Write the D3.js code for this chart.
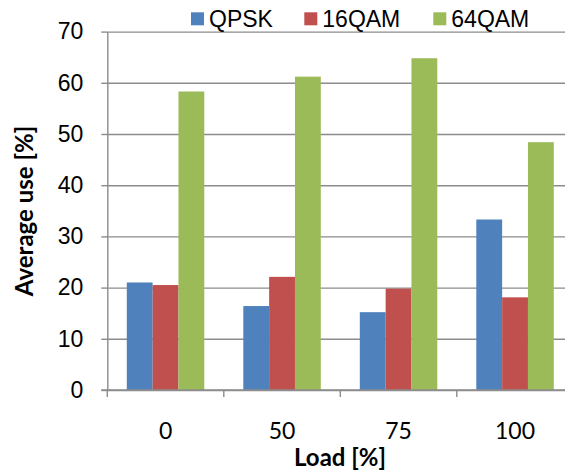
<!DOCTYPE html>
<html>
<head>
<meta charset="utf-8">
<script src="https://cdn.jsdelivr.net/npm/d3@7"></script>
<style>
  html, body { margin: 0; padding: 0; background: #fff; overflow: hidden; }
  svg { display: block; }
</style>
</head>
<body>
<div id="chart"></div>
<script>
// ---- data ----
const categories = ["0", "50", "75", "100"];
const seriesNames = ["QPSK", "16QAM", "64QAM"];
const qpsk  = [21.0, 16.4, 15.2, 33.3];
const qam16 = [20.5, 22.1, 19.8, 18.1];
const qam64 = [58.3, 61.2, 64.8, 48.4];
const yTicks = [0, 10, 20, 30, 40, 50, 60, 70];
const colors = ["#4F81BD", "#C0504D", "#9BBB59"];
const xTitle = "Load [%]";
const yTitle = "Average use [%]";

const seriesValues = [qpsk, qam16, qam64];

// ---- layout ----
const W = 565, H = 472;
const pLeft = 107.3, pRight = 573.3, pTop = 31.6, pBottom = 390;
const gridColor = "#8c8c8c";

const svg = d3.select("#chart").append("svg")
  .attr("width", W).attr("height", H);

const x = d3.scaleBand().domain(categories).range([pLeft, pRight]).padding(0);
const bw = x.bandwidth();
const inner = d3.scaleBand().domain(seriesNames)
  .range([bw * 0.1674, bw * (1 - 0.1674)]).padding(0);
const y = d3.scaleLinear().domain([0, 70]).range([pBottom, pTop]);

// gridlines
const grid = svg.append("g")
  .attr("transform", `translate(${pLeft},0)`)
  .call(d3.axisLeft(y).tickValues(yTicks).tickSize(-(pRight - pLeft)).tickFormat(""));
grid.select(".domain").remove();
grid.selectAll("line").attr("stroke", gridColor).attr("stroke-width", 1.4);

// bars
const rows = categories.map((c, i) => ({ cat: c, vals: seriesNames.map((s, j) => ({ s, v: seriesValues[j][i], j })) }));
const groups = svg.append("g").selectAll("g").data(rows).join("g")
  .attr("transform", d => `translate(${x(d.cat)},0)`);
groups.selectAll("rect").data(d => d.vals).join("rect")
  .attr("x", d => inner(d.s))
  .attr("width", inner.bandwidth())
  .attr("y", d => y(d.v))
  .attr("height", d => y(0) - y(d.v))
  .attr("fill", d => colors[d.j]);

// y axis
const yAxis = svg.append("g")
  .attr("transform", `translate(${pLeft},0)`)
  .call(d3.axisLeft(y).tickValues(yTicks).tickSize(6).tickPadding(18).tickSizeOuter(0));
yAxis.select(".domain").attr("stroke", gridColor).attr("stroke-width", 1.4);
yAxis.selectAll("line").attr("stroke", gridColor).attr("stroke-width", 1.4);
yAxis.selectAll("text")
  .attr("font-family", "Liberation Sans, Arial, sans-serif")
  .attr("font-size", 23).attr("fill", "#000");

// x axis line with boundary ticks
const xAxisLine = svg.append("g").attr("transform", `translate(0,${pBottom})`);
xAxisLine.append("line")
  .attr("x1", pLeft - 6).attr("x2", pRight)
  .attr("stroke", gridColor).attr("stroke-width", 1.4);
const bounds = categories.map(c => x(c));
xAxisLine.selectAll("line.b").data(bounds).join("line").attr("class", "b")
  .attr("x1", d => d).attr("x2", d => d).attr("y1", 0).attr("y2", 7)
  .attr("stroke", gridColor).attr("stroke-width", 1.4);

// x labels
const xAxis = svg.append("g")
  .attr("transform", `translate(0,${pBottom})`)
  .call(d3.axisBottom(x).tickSize(0).tickPadding(33));
xAxis.select(".domain").remove();
xAxis.selectAll("text")
  .attr("font-family", "Lato, sans-serif")
  .attr("font-size", 23).attr("fill", "#000");

// axis titles
svg.append("text")
  .attr("x", 340).attr("y", 466)
  .attr("text-anchor", "middle")
  .attr("font-family", "Lato, sans-serif").attr("font-weight", "bold")
  .attr("font-size", 24).attr("fill", "#000")
  .text(xTitle);

svg.append("text")
  .attr("transform", "translate(33,211) rotate(-90)")
  .attr("text-anchor", "middle")
  .attr("font-family", "Lato, sans-serif").attr("font-weight", "bold")
  .attr("font-size", 24).attr("fill", "#000")
  .text(yTitle);

// legend
const legendX = [191, 304.3, 433.3];
const legend = svg.append("g").selectAll("g").data(seriesNames).join("g")
  .attr("transform", (d, i) => `translate(${legendX[i]},12.3)`);
legend.append("rect").attr("width", 13).attr("height", 13)
  .attr("fill", (d, i) => colors[i]);
legend.append("text").attr("x", 18).attr("y", 14.6)
  .attr("font-family", "Liberation Sans, Arial, sans-serif")
  .attr("font-size", 23).attr("fill", "#000")
  .text(d => d);
</script>
</body>
</html>
